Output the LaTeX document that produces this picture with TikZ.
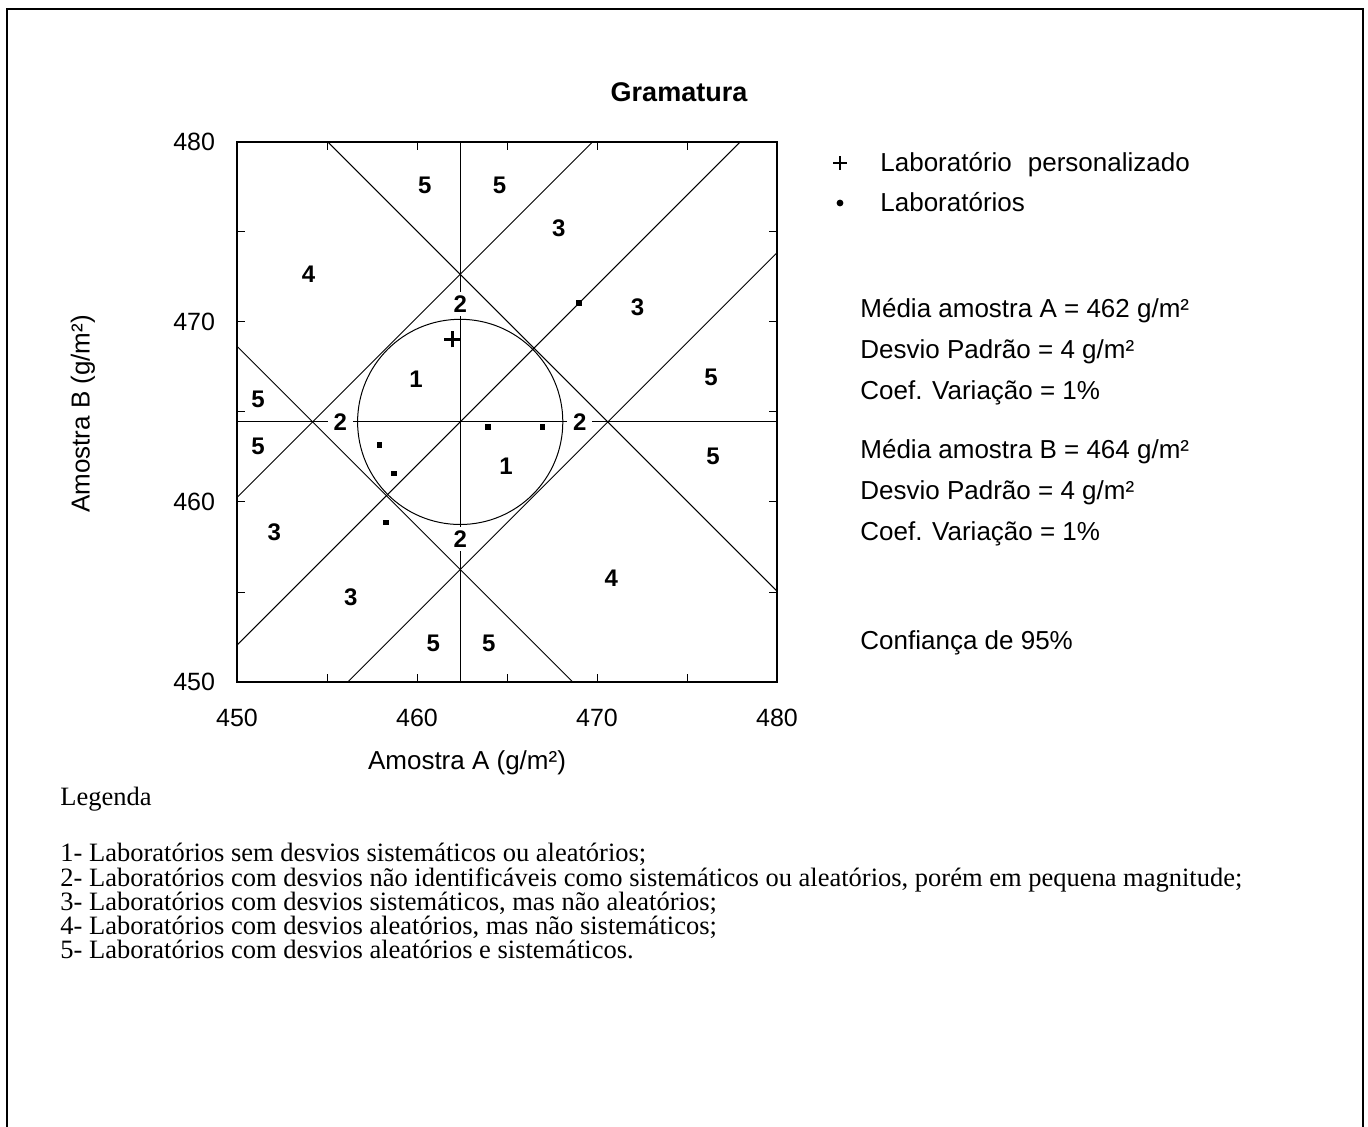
\documentclass[tikz,border=0pt]{standalone}
\usepackage{fontspec}
\setmainfont{Liberation Sans}
\newfontfamily\legfont{Liberation Serif}
\begin{document}
\begin{tikzpicture}[x=0.5pt,y=-0.5pt,
  gline/.style={line width=0.5pt, black},
  boxline/.style={line width=0.75pt, black},
  lbl/.style={font=\fontsize{12}{13}\selectfont\bfseries, inner sep=0pt},
  lbltwo/.style={lbl, fill=white, inner xsep=3pt, inner ysep=2pt},
  ticklbl/.style={font=\fontsize{12.5}{14}\selectfont, inner sep=0pt},
  txt/.style={font=\fontsize{13}{15}\selectfont, anchor=base west, inner sep=0pt},
  leg/.style={font=\legfont\fontsize{13.25}{15}\selectfont, anchor=base west, inner sep=0pt},
  pt/.style={rectangle, fill=black, minimum size=2.8pt, inner sep=0pt},
]
\useasboundingbox (0,0) rectangle (1368,1127);
% outer frame
\draw[line width=1pt] (7,1127) -- (7,9) -- (1363,9) -- (1363,1127);

% title
\node[font=\fontsize{13.5}{15}\selectfont\bfseries, inner sep=0pt] (title) at (679,92) {Gramatura};

% axis labels
\node[font=\fontsize{13}{15}\selectfont, inner sep=0pt] (xlab) at (467,763) {Amostra A (g/m²)};
\node[font=\fontsize{13}{15}\selectfont, inner sep=0pt, rotate=90] (ylab) at (83,414) {Amostra B (g/m²)};

\begin{scope}[shift={(237,682)}, x=9pt, y=9pt]
  \coordinate (BL) at (0,0);
  \coordinate (TR) at (30,30);
  \coordinate (C) at (12.4,14.45);
  % lines
  \draw[gline] (12.4,0) -- (12.4,30);
  \draw[gline] (0,14.45) -- (30,14.45);
  \draw[gline] (0,2.05) -- (27.95,30);
  \draw[gline] (0,10.25) -- (19.75,30);
  \draw[gline] (6.15,0) -- (30,23.85);
  \draw[gline] (5.05,30) -- (30,5.05);
  \draw[gline] (0,18.65) -- (18.65,0);
  \draw[gline] (C) circle[radius=5.7];
  % ticks
  \foreach \t in {5,10,15,20,25} {
    \draw[gline] (\t,0) -- ++(0,0.44);
    \draw[gline] (\t,30) -- ++(0,-0.44);
    \draw[gline] (0,\t) -- ++(0.44,0);
    \draw[gline] (30,\t) -- ++(-0.44,0);
  }
  \draw[boxline] (BL) rectangle (TR);
  % tick labels
  \node[ticklbl] (x450) at (0,-2) {450};
  \node[ticklbl] (x460) at (10,-2) {460};
  \node[ticklbl] (x470) at (20,-2) {470};
  \node[ticklbl] (x480) at (30,-2) {480};
  \node[ticklbl, anchor=east] (y450) at (-1.2,0) {450};
  \node[ticklbl, anchor=east] (y460) at (-1.2,10) {460};
  \node[ticklbl, anchor=east] (y470) at (-1.2,20) {470};
  \node[ticklbl, anchor=east] (y480) at (-1.2,30) {480};
  % region labels
  \node[lbl] (r5a) at (10.43,27.6) {5};
  \node[lbl] (r5b) at (14.58,27.6) {5};
  \node[lbl] (r3a) at (17.88,25.18) {3};
  \node[lbl] (r4a) at (3.98,22.66) {4};
  \node[lbltwo] (r2t) at (12.4,21.0) {2};
  \node[lbl] (r3b) at (22.25,20.8) {3};
  \node[lbl] (r1a) at (9.94,16.8) {1};
  \node[lbl] (r5c) at (26.34,16.9) {5};
  \node[lbl] (r5d) at (1.17,15.7) {5};
  \node[lbltwo] (r2l) at (5.74,14.45) {2};
  \node[lbltwo] (r2r) at (19.04,14.45) {2};
  \node[lbl] (r5e) at (1.17,13.1) {5};
  \node[lbl] (r1b) at (14.95,11.97) {1};
  \node[lbl] (r5f) at (26.44,12.53) {5};
  \node[lbl] (r3c) at (2.07,8.3) {3};
  \node[lbltwo] (r2b) at (12.4,7.94) {2};
  \node[lbl] (r4b) at (20.8,5.74) {4};
  \node[lbl] (r3d) at (6.32,4.7) {3};
  \node[lbl] (r5g) at (10.9,2.16) {5};
  \node[lbl] (r5h) at (13.99,2.16) {5};
  % data points
  \node[pt] (p1) at (19.0,21.05) {};
  \node[pt] (p2) at (13.94,14.16) {};
  \node[pt] (p3) at (16.97,14.16) {};
  \node[pt] (p4) at (7.92,13.15) {};
  \node[pt] (p5) at (8.73,11.58) {};
  \node[pt] (p6) at (8.28,8.87) {};
  % personalized lab
  \coordinate (cr) at (11.97,19.03);
  \draw[line width=1.3pt] ([xshift=-4pt]cr) -- ([xshift=4pt]cr);
  \draw[line width=1.3pt] ([yshift=-4pt]cr) -- ([yshift=4pt]cr);
\end{scope}

% legend on right
\coordinate (lp) at (840,163);
\draw[line width=1.3pt] ([xshift=-3.3pt]lp) -- ([xshift=3.3pt]lp);
\draw[line width=1.3pt] ([yshift=-3.3pt]lp) -- ([yshift=3.3pt]lp);
\node[circle, fill=black, minimum size=3.4pt, inner sep=0pt] (ld) at (840,203) {};
\node[txt] (t1) at (880,172) {Laboratório\hspace{8pt}personalizado};
\node[txt] (t2) at (880,212) {Laboratórios};
\node[txt] (t3) at (860,318) {Média amostra A = 462 g/m²};
\node[txt] (t4) at (860,359) {Desvio Padrão = 4 g/m²};
\node[txt] (t5) at (860,400) {Coef. Variação = 1\%};
\node[txt] (t6) at (860,459) {Média amostra B = 464 g/m²};
\node[txt] (t7) at (860,500) {Desvio Padrão = 4 g/m²};
\node[txt] (t8) at (860,540) {Coef. Variação = 1\%};
\node[txt] (t9) at (860,649) {Confiança de 95\%};

% bottom legend
\node[leg] (g0) at (60,805) {Legenda};
\node[leg] (g1) at (60,861) {1- Laboratórios sem desvios sistemáticos ou aleatórios;};
\node[leg] (g2) at (60,886) {2- Laboratórios com desvios não identificáveis como sistemáticos ou aleatórios, porém em pequena magnitude;};
\node[leg] (g3) at (60,910) {3- Laboratórios com desvios sistemáticos, mas não aleatórios;};
\node[leg] (g4) at (60,934) {4- Laboratórios com desvios aleatórios, mas não sistemáticos;};
\node[leg] (g5) at (60,958) {5- Laboratórios com desvios aleatórios e sistemáticos.};
\end{tikzpicture}
\end{document}
